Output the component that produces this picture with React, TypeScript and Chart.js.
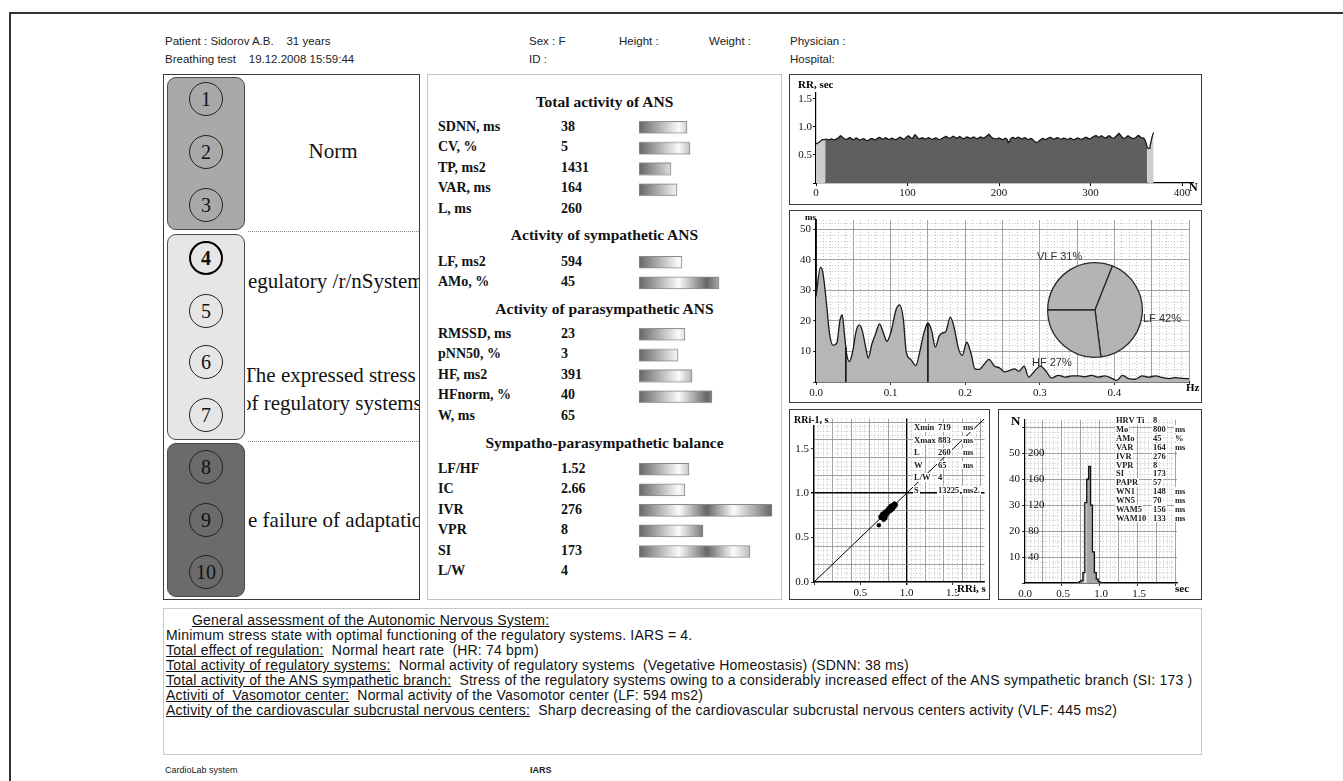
import React, { useEffect, useRef } from 'react';
import { Chart, registerables } from 'chart.js';

Chart.register(...registerables);
Chart.defaults.font.family = '"Liberation Serif", "Times New Roman", serif';
Chart.defaults.font.size = 11;
Chart.defaults.color = '#111';

// ---------------- data ----------------
const rrIntervalsMs = [
  700, 705, 712, 720, 735, 748, 760, 770, 772, 768, 775, 782, 778, 770, 766, 772, 780, 786, 778, 770,
  765, 772, 781, 790, 800, 812, 830, 840, 826, 810, 798, 788, 780, 776, 782, 790, 801, 808, 796, 784,
  775, 770, 778, 789, 800, 795, 783, 772, 765, 768, 778, 786, 790, 782, 770, 760, 752, 758, 769, 780,
  788, 794, 786, 775, 768, 772, 780, 792, 804, 812, 806, 795, 784, 778, 785, 796, 804, 798, 788, 781,
  776, 780, 790, 799, 792, 783, 774, 770, 776, 786, 797, 808, 815, 806, 794, 785, 780, 788, 800, 820,
  832, 840, 826, 812, 800, 795, 808, 830, 858, 850, 828, 806, 792, 786, 790, 798, 806, 798, 786, 780,
  784, 792, 800, 806, 798, 790, 782, 776, 780, 788, 796, 802, 795, 786, 778, 772, 778, 786, 795, 804,
  812, 820, 828, 820, 810, 800, 794, 800, 812, 824, 832, 824, 812, 803, 798, 806, 818, 826, 816, 804,
  795, 788, 792, 800, 812, 820, 814, 806, 798, 792, 800, 810, 818, 812, 803, 796, 790, 795, 804, 812,
  818, 812, 805, 800, 806, 816, 828, 842, 856, 862, 850, 830, 812, 800, 796, 792, 786, 780, 786, 794,
  800, 796, 786, 776, 770, 778, 790, 798, 786, 770, 719, 738, 768, 790, 804, 812, 806, 796, 788, 796,
  808, 816, 810, 800, 792, 786, 790, 800, 806, 800, 790, 778, 770, 776, 786, 792, 784, 770, 752, 736,
  724, 722, 726, 735, 750, 765, 778, 786, 792, 786, 778, 772, 780, 790, 800, 808, 812, 804, 794, 786,
  780, 786, 794, 802, 808, 800, 790, 782, 778, 784, 792, 798, 794, 786, 780, 776, 782, 790, 796, 790,
  782, 776, 772, 778, 788, 796, 802, 796, 788, 780, 776, 782, 792, 800, 806, 812, 806, 798, 790, 786,
  792, 802, 812, 822, 830, 838, 842, 834, 822, 812, 818, 830, 840, 832, 820, 808, 800, 806, 818, 830,
  842, 836, 822, 810, 800, 796, 804, 816, 832, 852, 868, 883, 870, 848, 822, 806, 798, 792, 800, 812,
  826, 840, 832, 818, 806, 798, 792, 790, 796, 806, 818, 832, 846, 838, 822, 808, 800, 804, 798, 780,
  752, 700, 640, 612, 618, 660, 720, 800, 860, 900,
];
const rrUsedFrom = 10;
const rrUsedTo = 362;

const spectrumHz = [
  0.000, 0.006, 0.009, 0.014, 0.018, 0.023, 0.028, 0.032, 0.035, 0.038, 0.041, 0.045, 0.049, 0.054,
  0.058, 0.062, 0.067, 0.070, 0.075, 0.080, 0.085, 0.090, 0.095, 0.101, 0.107, 0.112, 0.117, 0.121,
  0.127, 0.134, 0.139, 0.145, 0.150, 0.155, 0.160, 0.165, 0.169, 0.174, 0.180, 0.185, 0.191, 0.196,
  0.202, 0.208, 0.213, 0.219, 0.225, 0.232, 0.239, 0.246, 0.253, 0.259, 0.266, 0.272, 0.279, 0.285,
  0.292, 0.301, 0.309, 0.316, 0.325, 0.334, 0.343, 0.352, 0.360, 0.369, 0.378, 0.387, 0.396, 0.403,
  0.411, 0.419, 0.428, 0.437, 0.446, 0.455, 0.464, 0.473, 0.482, 0.491, 0.500,
];
const spectrumPower = [
  28, 37.5, 36, 26, 16, 12, 12.8, 20, 22, 16, 9.2, 6.7, 9.8, 16.8,
  18.7, 16.8, 10.9, 7.8, 12.5, 15.8, 19, 16.3, 13.3, 16.8, 23.4, 25.2, 20.7, 9.8,
  7.4, 5.4, 9.8, 16.3, 19.3, 16.8, 11.4, 15, 16, 16.5, 21.2, 18, 10.9, 8.7,
  13, 9.2, 4.3, 4.1, 5.7, 7.4, 5.2, 4.6, 3.3, 3.7, 4.3, 3.5, 5.2, 1.6,
  3.3, 5.2, 3.3, 1.3, 2.2, 1.6, 2, 2, 1.7, 2.2, 1.6, 2, 1.3, 0.5,
  2.2, 1.1, 0.9, 2, 1.6, 2, 1.5, 1.1, 1.4, 1.2, 1.1,
];
const bandEdgesHz = [0.04, 0.15];

const bandNames = ['VLF', 'LF', 'HF'];
const bandShares = [31, 42, 27];

const histBinSec = [0.7, 0.725, 0.75, 0.775, 0.8, 0.825, 0.85, 0.875, 0.9, 0.925, 0.95, 0.975, 1.0];
const histPercent = [0, 0.5, 1, 4, 31, 40, 45, 30, 12, 4, 1.5, 0.5, 0];
const histLightBin = 0.8;

const totalRows: [string, string, number | null][] = [
  ['SDNN, ms', '38', 48], ['CV, %', '5', 51], ['TP, ms2', '1431', 32], ['VAR, ms', '164', 38], ['L, ms', '260', null],
];
const sympRows: [string, string, number | null][] = [
  ['LF, ms2', '594', 43], ['AMo, %', '45', 80],
];
const parasympRows: [string, string, number | null][] = [
  ['RMSSD, ms', '23', 46], ['pNN50, %', '3', 39], ['HF, ms2', '391', 53], ['HFnorm, %', '40', 73], ['W, ms', '65', null],
];
const balanceRows: [string, string, number | null][] = [
  ['LF/HF', '1.52', 50], ['IC', '2.66', 46], ['IVR', '276', 133], ['VPR', '8', 64], ['SI', '173', 111], ['L/W', '4', null],
];

const poincareStats = [
  ['Xmin', '719', 'ms'], ['Xmax', '883', 'ms'], ['L', '260', 'ms'], ['W', '65', 'ms'], ['L/W', '4', ''], ['S', '13225', 'ms2.'],
];
const histStats = [
  ['HRV Ti', '8', ''], ['Mo', '800', 'ms'], ['AMo', '45', '%'], ['VAR', '164', 'ms'], ['IVR', '276', ''], ['VPR', '8', ''],
  ['SI', '173', ''], ['PAPR', '57', ''], ['WN1', '148', 'ms'], ['WN5', '70', 'ms'], ['WAM5', '156', 'ms'], ['WAM10', '133', 'ms'],
];

const assessmentTitle = 'General assessment of the Autonomic Nervous System:';
const assessmentSummary = 'Minimum stress state with optimal functioning of the regulatory systems. IARS = 4.';
const assessmentItems = [
  ['Total effect of regulation:', '  Normal heart rate  (HR: 74 bpm)'],
  ['Total activity of regulatory systems:', '  Normal activity of regulatory systems  (Vegetative Homeostasis) (SDNN: 38 ms)'],
  ['Total activity of the ANS sympathetic branch:', '  Stress of the regulatory systems owing to a considerably increased effect of the ANS sympathetic branch (SI: 173 )'],
  ['Activiti of  Vasomotor center:', '  Normal activity of the Vasomotor center (LF: 594 ms2)'],
  ['Activity of the cardiovascular subcrustal nervous centers:', '  Sharp decreasing of the cardiovascular subcrustal nervous centers activity (VLF: 445 ms2)'],
];

// ---------------- helpers ----------------
const SERIF = '"Liberation Serif", "Times New Roman", serif';
const SANS = '"Liberation Sans", Arial, sans-serif';
const near = (v: number, step: number) => Math.abs(v / step - Math.round(v / step)) < 1e-6;

function fineAxis(o: any) {
  const isStrong = (v: number) => o.strong !== undefined && Math.abs(v - o.strong) < 1e-6;
  return {
    type: 'linear',
    min: o.min,
    max: o.max,
    offset: false,
    weight: o.weight ?? 0,
    ticks: {
      stepSize: o.minor,
      autoSkip: false,
      includeBounds: false,
      maxRotation: 0,
      padding: 2,
      color: '#111',
      font: { size: 11 },
      callback: (v: number) => (near(v, o.label) && !(o.hide && o.hide(v)) ? o.fmt(v) : ''),
    },
    grid: {
      color: (c: any) => {
        const v = c.tick ? c.tick.value : 0;
        if (isStrong(v)) return '#000';
        return near(v, o.major) ? '#8a8a8a' : '#b2b2b2';
      },
      lineWidth: (c: any) => (c.tick && isStrong(c.tick.value) ? 1.4 : 0.8),
      tickColor: (c: any) => (c.tick && near(c.tick.value, o.label) ? '#000' : 'rgba(0,0,0,0)'),
      tickLength: 3,
    },
    border: {
      color: '#000',
      width: o.borderWidth ?? 1.2,
      dash: (c: any) => {
        if (!c.tick) return [];
        const v = c.tick.value;
        return near(v, o.major) || isStrong(v) ? [] : [1, 2];
      },
    },
    afterFit: (s: any) => {
      if (o.horizontal) s.height = o.size;
      else s.width = o.size;
    },
  };
}

const baseOptions = {
  animation: false,
  responsive: true,
  maintainAspectRatio: false,
  events: [],
  plugins: { legend: { display: false }, tooltip: { enabled: false } },
};

const levelGradientSpan = 133;
function levelGradient(c: any) {
  const chart = c.chart;
  const xs = chart.scales && chart.scales.x;
  if (!xs || !chart.chartArea) return '#999';
  const x0 = xs.getPixelForValue(0);
  const x1 = xs.getPixelForValue(levelGradientSpan);
  const g = chart.ctx.createLinearGradient(x0, 0, x1, 0);
  g.addColorStop(0, '#666666');
  g.addColorStop(0.3, '#fbfbfb');
  g.addColorStop(0.51, '#666666');
  g.addColorStop(0.71, '#fbfbfb');
  g.addColorStop(1, '#666666');
  return g;
}

function ChartBox({ left, top, width, height, make }: any) {
  const ref = useRef<HTMLCanvasElement | null>(null);
  useEffect(() => {
    if (!ref.current) return;
    const chart = new Chart(ref.current, make());
    return () => chart.destroy();
  }, []);
  return (
    <div style={{ position: 'absolute', left, top, width, height }}>
      <canvas ref={ref} />
    </div>
  );
}

// ---------------- chart configs ----------------
function rrConfig(): any {
  const pts = rrIntervalsMs.map((ms, i) => ({ x: i, y: ms / 1000 }));
  const part = (a: number, b: number) => pts.filter((p) => p.x >= a && p.x <= b);
  const fillDs = (data: any[], color: string) => ({
    data, fill: 'origin', backgroundColor: color, borderColor: 'rgba(0,0,0,0)', borderWidth: 0, pointRadius: 0, order: 1,
  });
  return {
    type: 'line',
    data: {
      datasets: [
        { data: pts, borderColor: '#111', borderWidth: 1.2, pointRadius: 0, fill: false, order: 0 },
        fillDs(part(0, rrUsedFrom), '#cdcdcd'),
        fillDs(part(rrUsedFrom, rrUsedTo), '#5f5f5f'),
        fillDs(part(rrUsedTo, pts.length - 1), '#cdcdcd'),
      ],
    },
    options: {
      ...baseOptions,
      layout: { padding: { top: 18, right: 8, left: 0, bottom: 0 } },
      scales: {
        x: {
          type: 'linear', min: 0, max: 412,
          ticks: { stepSize: 100, includeBounds: false, maxRotation: 0, padding: 1, callback: (v: number) => String(v) },
          grid: { drawOnChartArea: false, color: '#000', tickLength: 3 },
          border: { color: '#000', width: 1.2 },
          afterFit: (s: any) => { s.height = 20; },
        },
        y: {
          type: 'linear', min: 0, max: 1.6,
          ticks: { stepSize: 0.5, includeBounds: false, padding: 1, callback: (v: number) => (v === 0 ? '' : Number(v).toFixed(1)) },
          grid: { drawOnChartArea: false, color: '#000', tickLength: 3 },
          border: { color: '#000', width: 1.2 },
          afterFit: (s: any) => { s.width = 26; },
        },
      },
    },
  };
}

function powerAt(f: number) {
  for (let i = 1; i < spectrumHz.length; i++) {
    if (spectrumHz[i] >= f) {
      const t = (f - spectrumHz[i - 1]) / (spectrumHz[i] - spectrumHz[i - 1]);
      return spectrumPower[i - 1] + t * (spectrumPower[i] - spectrumPower[i - 1]);
    }
  }
  return 0;
}

function spectrumConfig(): any {
  const pts = spectrumHz.map((f, i) => ({ x: f, y: spectrumPower[i] }));
  return {
    type: 'line',
    data: {
      datasets: [
        ...bandEdgesHz.map((e) => ({
          data: [{ x: e, y: 0 }, { x: e, y: powerAt(e) }], borderColor: '#111', borderWidth: 1.6, pointRadius: 0, fill: false, order: 0,
        })),
        {
          data: pts, borderColor: '#1a1a1a', borderWidth: 1.3, backgroundColor: '#b6b6b6', fill: 'origin',
          pointRadius: 0, tension: 0.4, cubicInterpolationMode: 'monotone', order: 1,
        },
      ],
    },
    options: {
      ...baseOptions,
      layout: { padding: { top: 9, right: 12, left: 0, bottom: 0 } },
      scales: {
        x: fineAxis({ min: 0, max: 0.5, minor: 0.01, major: 0.05, label: 0.1, fmt: (v: number) => v.toFixed(1), hide: (v: number) => v > 0.45, size: 20, horizontal: true }),
        y: fineAxis({ min: 0, max: 53, minor: 2, major: 10, label: 10, fmt: (v: number) => String(v), hide: (v: number) => v < 1e-9, size: 26, borderWidth: 1.8 }),
      },
    },
  };
}

function pieConfig(): any {
  return {
    type: 'pie',
    data: {
      labels: bandNames,
      datasets: [{ data: bandShares, backgroundColor: '#b4b4b4', borderColor: '#2a2a2a', borderWidth: 1.3 }],
    },
    options: { ...baseOptions, rotation: -90, layout: { padding: 1 } },
  };
}

const poincareMax = 1.84;
function poincareConfig(): any {
  const pairs: { x: number; y: number }[] = [];
  for (let i = rrUsedFrom; i < rrUsedTo; i++) {
    pairs.push({ x: rrIntervalsMs[i] / 1000, y: rrIntervalsMs[i + 1] / 1000 });
  }
  return {
    type: 'scatter',
    data: {
      datasets: [
        { type: 'line', data: [{ x: 0, y: 0 }, { x: poincareMax, y: poincareMax }], borderColor: '#000', borderWidth: 1, pointRadius: 0, fill: false, order: 1 },
        { data: pairs, pointRadius: 2, pointBackgroundColor: '#000', pointBorderColor: '#000', pointBorderWidth: 0.5, order: 0 },
      ],
    },
    options: {
      ...baseOptions,
      layout: { padding: { top: 6, right: 4, left: 0, bottom: 0 } },
      scales: {
        x: fineAxis({ min: 0, max: poincareMax, minor: 0.05, major: 0.2, label: 0.5, fmt: (v: number) => v.toFixed(1), hide: (v: number) => v < 1e-9, size: 17, horizontal: true, strong: 1 }),
        y: fineAxis({ min: 0, max: poincareMax, minor: 0.05, major: 0.2, label: 0.5, fmt: (v: number) => v.toFixed(1), size: 24, strong: 1 }),
      },
    },
  };
}

function histConfig(): any {
  const pts = histBinSec.map((b, i) => ({ x: b, y: histPercent[i] }));
  return {
    type: 'bar',
    data: {
      datasets: [
        { type: 'line', data: pts, stepped: 'middle', borderColor: '#111', borderWidth: 1.3, pointRadius: 0, fill: false, order: 0 },
        {
          type: 'bar', data: pts,
          backgroundColor: histBinSec.map((b) => (Math.abs(b - histLightBin) < 1e-6 ? '#f2f2f2' : '#a6a6a6')),
          borderWidth: 0, barPercentage: 1, categoryPercentage: 1, order: 1,
        },
      ],
    },
    options: {
      ...baseOptions,
      layout: { padding: { top: 9, right: 24, left: 0, bottom: 0 } },
      scales: {
        x: fineAxis({ min: 0, max: 2, minor: 0.05, major: 0.25, label: 0.5, fmt: (v: number) => v.toFixed(1), hide: (v: number) => v > 1.9, size: 16, horizontal: true }),
        y: fineAxis({ min: 0, max: 63, minor: 2, major: 10, label: 10, fmt: (v: number) => String(v), hide: (v: number) => v < 1e-9 || v > 55, size: 26, weight: 1 }),
        yN: {
          type: 'linear', position: 'left', weight: 0, min: 0, max: 252,
          ticks: { stepSize: 40, includeBounds: false, mirror: true, padding: 3, color: '#111', callback: (v: number) => (v > 0 && v <= 200 ? String(v) : '') },
          grid: { display: false },
          border: { display: false },
          afterFit: (s: any) => { s.width = 0; },
        },
      },
    },
  };
}

function barsConfig(rows: [string, string, number | null][]): any {
  return {
    type: 'bar',
    data: {
      labels: rows.map((r) => r[0]),
      datasets: [{
        data: rows.map((r) => r[2]), backgroundColor: levelGradient, borderColor: '#8a8a8a', borderWidth: 1,
        borderSkipped: false, barThickness: 12,
      }],
    },
    options: {
      ...baseOptions,
      indexAxis: 'y',
      layout: { padding: 0 },
      scales: { x: { display: false, min: 0, max: 140 }, y: { display: false } },
    },
  };
}

// ---------------- layout pieces ----------------
const STEP = 20.55;
const sections: { title: string; titleY: number; firstY: number; rows: [string, string, number | null][] }[] = [
  { title: 'Total activity of ANS', titleY: 102, firstY: 127, rows: totalRows },
  { title: 'Activity of sympathetic ANS', titleY: 235, firstY: 262, rows: sympRows },
  { title: 'Activity of parasympathetic ANS', titleY: 309, firstY: 334, rows: parasympRows },
  { title: 'Sympatho-parasympathetic balance', titleY: 443, firstY: 469, rows: balanceRows },
];

const levelGroups = [
  { bg: '#a9a9a9', top: 77, bottom: 230 },
  { bg: '#e6e6e6', top: 234, bottom: 440 },
  { bg: '#6b6b6b', top: 443, bottom: 597 },
];
const levelY = [99, 152, 205, 258, 311, 362, 415, 467, 520, 572];
const currentLevel = 4;

function Txt({ x, y, children, style }: any) {
  return <div style={{ position: 'absolute', left: x, top: y, whiteSpace: 'pre', lineHeight: 1, ...style }}>{children}</div>;
}

function Panel({ l, t, w, h, border }: any) {
  return <div style={{ position: 'absolute', left: l, top: t, width: w, height: h, boxSizing: 'border-box', border, background: 'transparent' }} />;
}

export default function App() {
  const headerStyle = { fontFamily: SANS, fontSize: 11.5, color: '#222' };
  const darkBorder = '1.5px solid #3a3a3a';
  const statCell = { fontFamily: SERIF, fontWeight: 700, fontSize: 8.5, color: '#222', background: '#fff', padding: '0 1px' };

  return (
    <div style={{ position: 'absolute', left: 0, top: 0, width: 1343, height: 781, overflow: 'hidden', background: '#fff' }}>
      {/* outer frame */}
      <div style={{ position: 'absolute', left: 9, top: 12, width: 1400, height: 800, borderTop: '2px solid #333', borderLeft: '2px solid #333' }} />

      {/* header */}
      <Txt x={165} y={36} style={headerStyle}>{'Patient : Sidorov A.B.    31 years'}</Txt>
      <Txt x={165} y={54} style={headerStyle}>{'Breathing test    19.12.2008 15:59:44'}</Txt>
      <Txt x={529} y={36} style={headerStyle}>Sex : F</Txt>
      <Txt x={529} y={54} style={headerStyle}>ID :</Txt>
      <Txt x={619} y={36} style={headerStyle}>Height :</Txt>
      <Txt x={709} y={36} style={headerStyle}>Weight :</Txt>
      <Txt x={790} y={36} style={headerStyle}>Physician :</Txt>
      <Txt x={790} y={54} style={headerStyle}>Hospital:</Txt>

      {/* left panel */}
      <Panel l={163} t={74} w={257} h={526} border={darkBorder} />
      {levelGroups.map((g, gi) => (
        <div key={gi} style={{ position: 'absolute', left: 167, top: g.top, width: 78, height: g.bottom - g.top, boxSizing: 'border-box', background: g.bg, border: '1px solid #4a4a4a', borderRadius: 9 }} />
      ))}
      {levelY.map((y, i) => {
        const lvl = i + 1;
        const cur = lvl === currentLevel;
        return (
          <div key={lvl} style={{
            position: 'absolute', left: 206 - 17, top: y - 17, width: 34, height: 34, boxSizing: 'border-box', borderRadius: '50%',
            border: cur ? '2.6px solid #000' : '1.3px solid #222', display: 'flex', alignItems: 'center', justifyContent: 'center',
            fontFamily: SERIF, fontSize: 20, color: '#111', fontWeight: cur ? 700 : 400,
          }}>{lvl}</div>
        );
      })}
      <div style={{ position: 'absolute', left: 248, top: 231, width: 171, borderTop: '1px dotted #8a8a8a' }} />
      <div style={{ position: 'absolute', left: 248, top: 441, width: 171, borderTop: '1px dotted #8a8a8a' }} />
      <div style={{ position: 'absolute', left: 247, top: 76, width: 172, height: 522, overflow: 'hidden', fontFamily: SERIF, fontSize: 21, color: '#111' }}>
        <Txt x={0} y={152 - 76 - 11} style={{ width: 172, textAlign: 'center' }}>Norm</Txt>
        <Txt x={1} y={282 - 76 - 11}>{'egulatory /r/nSystems'}</Txt>
        <Txt x={-4} y={376 - 76 - 11}>{'The expressed stress'}</Txt>
        <Txt x={-6} y={404 - 76 - 11}>{'of regulatory systems'}</Txt>
        <Txt x={1} y={521 - 76 - 11}>{'e failure of adaptation'}</Txt>
      </div>

      {/* middle panel */}
      <Panel l={427} t={74} w={355} h={526} border="1px solid #c4c4c4" />
      {sections.map((s, si) => (
        <React.Fragment key={si}>
          <div style={{ position: 'absolute', left: 427, width: 355, top: s.titleY - 10, height: 20, lineHeight: '20px', textAlign: 'center', fontFamily: SERIF, fontWeight: 700, fontSize: 15.5, color: '#111' }}>{s.title}</div>
          {s.rows.map((r, ri) => (
            <React.Fragment key={ri}>
              <div style={{ position: 'absolute', left: 438, top: s.firstY + ri * STEP - STEP / 2, height: STEP, lineHeight: STEP + 'px', fontFamily: SERIF, fontWeight: 700, fontSize: 14, color: '#111', whiteSpace: 'pre' }}>{r[0]}</div>
              <div style={{ position: 'absolute', left: 561, top: s.firstY + ri * STEP - STEP / 2, height: STEP, lineHeight: STEP + 'px', fontFamily: SERIF, fontWeight: 700, fontSize: 14, color: '#111' }}>{r[1]}</div>
            </React.Fragment>
          ))}
          <ChartBox left={639} top={s.firstY - STEP / 2} width={140} height={s.rows.length * STEP} make={() => barsConfig(s.rows)} />
        </React.Fragment>
      ))}

      {/* RR rhythmogram */}
      <Panel l={789} t={74} w={413} h={131} border={darkBorder} />
      <ChartBox left={790} top={75} width={411} height={128} make={rrConfig} />
      <Txt x={798} y={79} style={{ fontFamily: SERIF, fontWeight: 700, fontSize: 11 }}>RR, sec</Txt>
      <Txt x={1189} y={181} style={{ fontFamily: SERIF, fontWeight: 700, fontSize: 12 }}>N</Txt>

      {/* spectrum */}
      <Panel l={789} t={210} w={413} h={193} border={darkBorder} />
      <ChartBox left={790} top={211} width={411} height={191} make={spectrumConfig} />
      <ChartBox left={1046} top={261} width={98} height={98} make={pieConfig} />
      <Txt x={805} y={213} style={{ fontFamily: SERIF, fontWeight: 700, fontSize: 9 }}>ms</Txt>
      <Txt x={1186} y={382} style={{ fontFamily: SERIF, fontWeight: 700, fontSize: 11 }}>Hz</Txt>
      <Txt x={1037} y={251} style={{ fontFamily: SANS, fontSize: 11, color: '#333' }}>{`${bandNames[0]} ${bandShares[0]}%`}</Txt>
      <Txt x={1143} y={313} style={{ fontFamily: SANS, fontSize: 11, color: '#333' }}>{`${bandNames[1]} ${bandShares[1]}%`}</Txt>
      <Txt x={1032} y={357} style={{ fontFamily: SANS, fontSize: 11, color: '#333' }}>{`${bandNames[2]} ${bandShares[2]}%`}</Txt>

      {/* scatterogram */}
      <Panel l={789} t={409} w={201} h={191} border={darkBorder} />
      <ChartBox left={790} top={410} width={199} height={189} make={poincareConfig} />
      <Txt x={794} y={415} style={{ fontFamily: SERIF, fontWeight: 700, fontSize: 10, background: '#fff' }}>RRi-1, s</Txt>
      <Txt x={957} y={583} style={{ fontFamily: SERIF, fontWeight: 700, fontSize: 11, background: '#fff' }}>RRi, s</Txt>
      {poincareStats.map((r, i) => (
        <React.Fragment key={i}>
          <Txt x={913} y={423 + i * 12.6} style={statCell}>{r[0]}</Txt>
          <Txt x={937} y={423 + i * 12.6} style={statCell}>{r[1]}</Txt>
          {r[2] ? <Txt x={962} y={423 + i * 12.6} style={statCell}>{r[2]}</Txt> : null}
        </React.Fragment>
      ))}

      {/* histogram */}
      <Panel l={998} t={409} w={204} h={191} border={darkBorder} />
      <ChartBox left={999} top={410} width={202} height={189} make={histConfig} />
      <Txt x={1011} y={414} style={{ fontFamily: SERIF, fontWeight: 700, fontSize: 13 }}>N</Txt>
      <Txt x={1175} y={583} style={{ fontFamily: SERIF, fontWeight: 700, fontSize: 11 }}>sec</Txt>
      {histStats.map((r, i) => (
        <React.Fragment key={i}>
          <Txt x={1115} y={416 + i * 8.9} style={statCell}>{r[0]}</Txt>
          <Txt x={1152} y={416 + i * 8.9} style={statCell}>{r[1]}</Txt>
          {r[2] ? <Txt x={1174} y={416 + i * 8.9} style={statCell}>{r[2]}</Txt> : null}
        </React.Fragment>
      ))}

      {/* assessment text */}
      <Panel l={163} t={608} w={1039} h={147} border="1px solid #c8c8c8" />
      <div style={{ position: 'absolute', left: 166, top: 613, fontFamily: SANS, fontSize: 14, letterSpacing: 0.2, lineHeight: '15px', color: '#111', whiteSpace: 'pre' }}>
        <div style={{ paddingLeft: 26 }}><span style={{ textDecoration: 'underline' }}>{assessmentTitle}</span></div>
        <div>{assessmentSummary}</div>
        {assessmentItems.map((it, i) => (
          <div key={i}><span style={{ textDecoration: 'underline' }}>{it[0]}</span>{it[1]}</div>
        ))}
      </div>

      {/* footer */}
      <Txt x={165} y={766} style={{ fontFamily: SANS, fontSize: 9, color: '#222' }}>CardioLab system</Txt>
      <Txt x={530} y={766} style={{ fontFamily: SANS, fontSize: 9, fontWeight: 700, color: '#222' }}>IARS</Txt>
    </div>
  );
}
